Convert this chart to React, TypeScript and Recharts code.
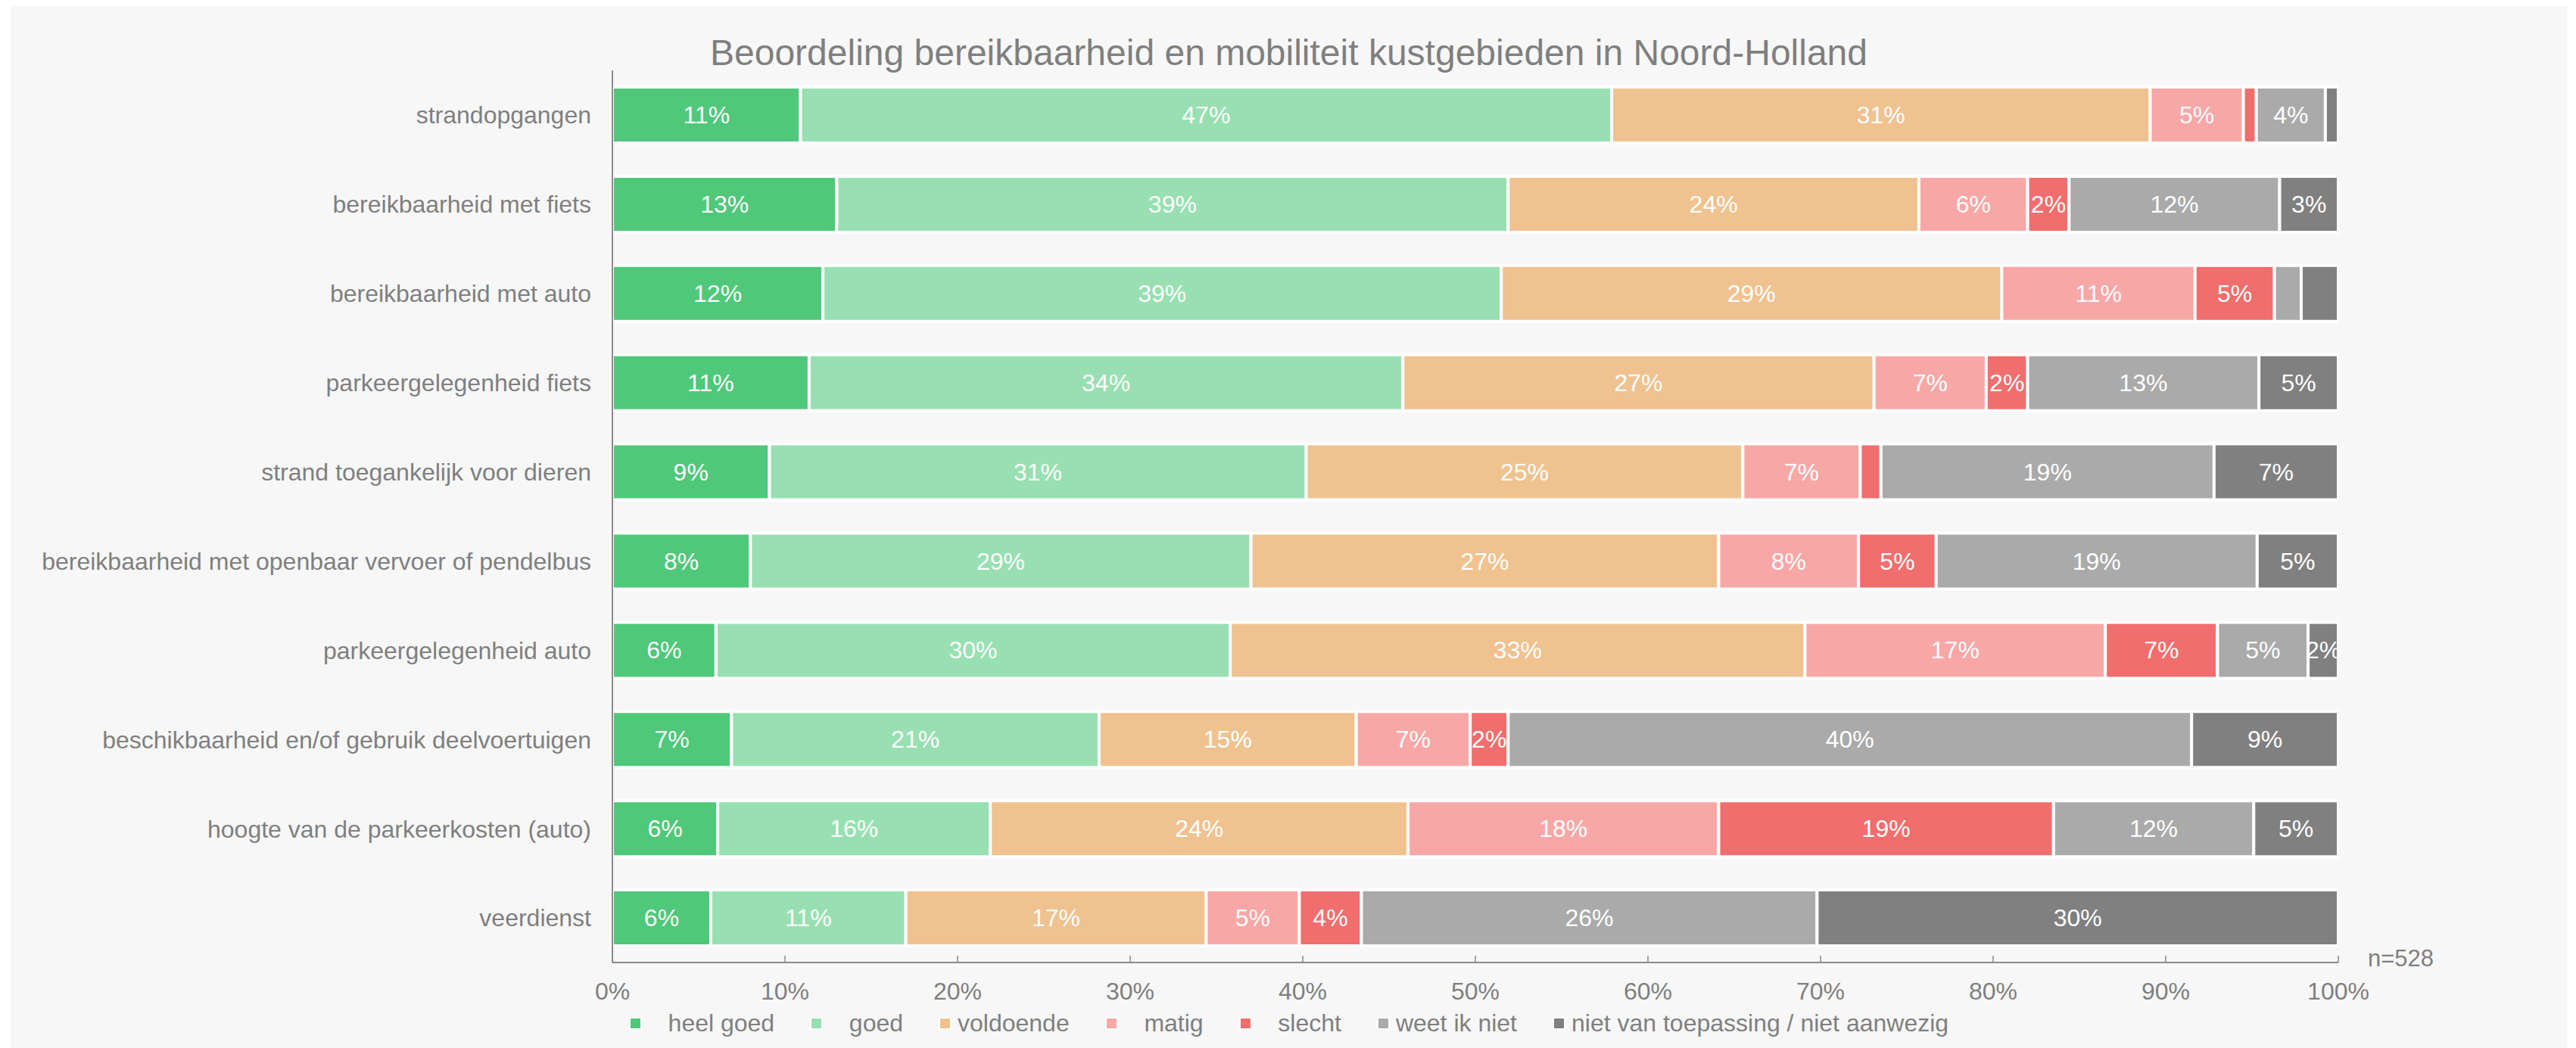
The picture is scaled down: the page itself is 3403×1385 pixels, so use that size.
import React from "react"
import { BarChart, Bar, XAxis, YAxis, Legend, LabelList } from "recharts"

const categories = [
  "strandopgangen",
  "bereikbaarheid met fiets",
  "bereikbaarheid met auto",
  "parkeergelegenheid fiets",
  "strand toegankelijk voor dieren",
  "bereikbaarheid met openbaar vervoer of pendelbus",
  "parkeergelegenheid auto",
  "beschikbaarheid en/of gebruik deelvoertuigen",
  "hoogte van de parkeerkosten (auto)",
  "veerdienst",
]

const heelGoed = [10.9, 13.0, 12.2, 11.4, 9.1, 8.0, 6.0, 6.9, 6.1, 5.7]
const goed = [47.0, 38.9, 39.3, 34.4, 31.1, 29.0, 29.8, 21.3, 15.8, 11.3]
const voldoende = [31.2, 23.8, 29.0, 27.3, 25.3, 27.1, 33.3, 14.9, 24.2, 17.4]
const matig = [5.4, 6.3, 11.2, 6.5, 6.8, 8.1, 17.4, 6.6, 18.0, 5.4]
const slecht = [0.75, 2.4, 4.6, 2.4, 1.2, 4.5, 6.5, 2.2, 19.4, 3.6]
const weetIkNiet = [4.0, 12.2, 1.55, 13.4, 19.3, 18.6, 5.25, 39.6, 11.6, 26.4]
const nvt = [0.75, 3.4, 2.15, 4.6, 7.2, 4.7, 1.75, 8.5, 4.9, 30.2]

const seriesKeys = ["heelGoed", "goed", "voldoende", "matig", "slecht", "weetIkNiet", "nvt"]
const seriesNames = [
  "   heel goed",
  "   goed",
  "voldoende",
  "   matig",
  "   slecht",
  "weet ik niet",
  "niet van toepassing / niet aanwezig",
]
const COLORS = ["#4fc87a", "#98e0b1", "#f0c290", "#f8a7a7", "#f16e6e", "#aaaaaa", "#808080"]

const xTicks = [0, 10, 20, 30, 40, 50, 60, 70, 80, 90, 100]

// labels that the original chart leaves out (they overlap)
const hiddenLabels: [number, string][] = [
  [2, "weetIkNiet"],
  [2, "nvt"],
]

const columns = [heelGoed, goed, voldoende, matig, slecht, weetIkNiet, nvt]
const data = categories.map((name, i) => {
  const row: any = { name }
  seriesKeys.forEach((k, s) => {
    row[k] = columns[s][i]
  })
  return row
})

const FONT = "'Liberation Sans', Arial, Helvetica, sans-serif"
const TEXT = "#7f7f7f"

function makeLabel(key: string) {
  return (props: any) => {
    const x = Number(props.x)
    const y = Number(props.y)
    const w = Number(props.width)
    const h = Number(props.height)
    const value = Number(props.value)
    if (!(value >= 1.5)) return null
    if (hiddenLabels.some(([r, k]) => r === props.index && k === key)) return null
    return (
      <text
        x={x + w / 2}
        y={y + h / 2}
        fill="#ffffff"
        fontSize={32}
        fontFamily={FONT}
        textAnchor="middle"
        dominantBaseline="central"
      >
        {Math.round(value)}%
      </text>
    )
  }
}

const renderLegend = () => (
  <div
    style={{
      display: "flex",
      justifyContent: "center",
      alignItems: "center",
      height: 50,
      fontSize: 32,
      color: TEXT,
      fontFamily: FONT,
    }}
  >
    {seriesNames.map((n, i) => (
      <div key={i} style={{ display: "flex", alignItems: "center", marginLeft: i ? 47 : 0 }}>
        <span
          style={{
            display: "inline-block",
            width: 13,
            height: 13,
            background: COLORS[i],
            border: "2px solid #ffffff",
            borderRadius: 2,
            marginRight: 8,
          }}
        />
        <span style={{ whiteSpace: "pre" }}>{n}</span>
      </div>
    ))}
  </div>
)

export default function App() {
  return (
    <div
      style={{
        position: "relative",
        marginLeft: 6,
        width: 3377,
        height: 1377,
        background: "#f7f7f7",
        fontFamily: FONT,
      }}
    >
      <div
        style={{
          position: "absolute",
          top: 38,
          left: 0,
          width: 3377,
          textAlign: "center",
          fontSize: 48,
          lineHeight: "48px",
          color: TEXT,
        }}
      >
        Beoordeling bereikbaarheid en mobiliteit kustgebieden in Noord-Holland
      </div>
      <div
        style={{
          position: "absolute",
          top: 1243,
          left: 3114,
          fontSize: 31,
          lineHeight: "31px",
          color: TEXT,
        }}
      >
        n=528
      </div>
      <BarChart
        width={3377}
        height={1377}
        data={data}
        layout="vertical"
        margin={{ top: 85, right: 302, bottom: 8, left: 0 }}
        barSize={74}
      >
        <XAxis
          type="number"
          domain={[0, 100]}
          allowDataOverflow
          ticks={xTicks}
          tickFormatter={(v: number) => `${v}%`}
          height={55}
          tickSize={-9}
          tickMargin={35}
          axisLine={{ stroke: "#8a8a8a", strokeWidth: 2 }}
          tickLine={{ stroke: "#8a8a8a", strokeWidth: 1.5 }}
          tick={{ fill: TEXT, fontSize: 32, fontFamily: FONT }}
          interval={0}
        />
        <YAxis
          type="category"
          dataKey="name"
          width={795}
          tickSize={0}
          tickMargin={28}
          tickLine={false}
          axisLine={{ stroke: "#8a8a8a", strokeWidth: 2 }}
          tick={{ fill: TEXT, fontSize: 32, fontFamily: FONT }}
          interval={0}
        />
        <Legend
          verticalAlign="bottom"
          content={renderLegend}
          wrapperStyle={{ left: 0, width: 3377 }}
        />
        {seriesKeys.map((k, i) => (
          <Bar
            key={k}
            dataKey={k}
            name={seriesNames[i]}
            stackId="a"
            fill={COLORS[i]}
            stroke="#ffffff"
            strokeWidth={4}
            isAnimationActive={false}
          >
            <LabelList dataKey={k} content={makeLabel(k)} />
          </Bar>
        ))}
      </BarChart>
    </div>
  )
}
